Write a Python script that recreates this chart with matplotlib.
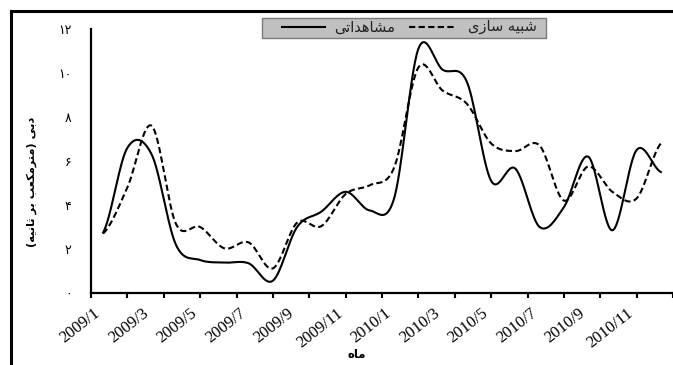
import numpy as np
import matplotlib
matplotlib.use('Agg')
import matplotlib.pyplot as plt
from matplotlib.lines import Line2D
from matplotlib.patches import Rectangle

# monthly discharge, 2009/1 .. 2010/12
months = ['%d/%d' % (y, m) for y in (2009, 2010) for m in range(1, 13)]
observed = [2.75, 6.6, 6.3, 2.2, 1.5, 1.38, 1.35, 0.56, 3.0, 3.7, 4.6, 3.75,
            4.3, 11.1, 10.15, 9.6, 5.1, 5.65, 3.0, 3.9, 6.2, 2.85, 6.5, 5.5]
simulated = [2.7, 4.8, 7.6, 3.15, 3.0, 2.03, 2.3, 1.12, 3.2, 3.04, 4.5, 4.9,
             5.7, 10.25, 9.2, 8.6, 6.8, 6.45, 6.7, 4.2, 5.75, 4.6, 4.3, 6.8]
xlabels = months[::2]
yticks = [0, 2, 4, 6, 8, 10, 12]
ylabels = ['۰', '۲', '۴', '۶', '۸', '۱۰', '۱۲']

# arabic presentation forms: iso, fin, ini, med
FORMS = {
    'ا': ('\uFE8D', '\uFE8E', None, None),
    'ب': ('\uFE8F', '\uFE90', '\uFE91', '\uFE92'),
    'ت': ('\uFE95', '\uFE96', '\uFE97', '\uFE98'),
    'ث': ('\uFE99', '\uFE9A', '\uFE9B', '\uFE9C'),
    'د': ('\uFEA9', '\uFEAA', None, None),
    'ر': ('\uFEAD', '\uFEAE', None, None),
    'ز': ('\uFEAF', '\uFEB0', None, None),
    'س': ('\uFEB1', '\uFEB2', '\uFEB3', '\uFEB4'),
    'ش': ('\uFEB5', '\uFEB6', '\uFEB7', '\uFEB8'),
    'ع': ('\uFEC9', '\uFECA', '\uFECB', '\uFECC'),
    'م': ('\uFEE1', '\uFEE2', '\uFEE3', '\uFEE4'),
    'ن': ('\uFEE5', '\uFEE6', '\uFEE7', '\uFEE8'),
    'ه': ('\uFEE9', '\uFEEA', '\uFEEB', '\uFEEC'),
    'ی': ('\uFBFC', '\uFBFD', '\uFBFE', '\uFBFF'),
    'ک': ('\uFB8E', '\uFB8F', '\uFB90', '\uFB91'),
}


def shape(s):
    out = []
    for i, c in enumerate(s):
        if c not in FORMS:
            out.append(c)
            continue
        prev = s[i - 1] if i > 0 else ''
        nxt = s[i + 1] if i < len(s) - 1 else ''
        jp = prev in FORMS and FORMS[prev][2] is not None
        jn = FORMS[c][2] is not None and nxt in FORMS
        f = FORMS[c]
        out.append(f[3] if jp and jn else f[1] if jp else f[2] if jn else f[0])
    vis = ''.join(reversed(out))
    return vis.translate(str.maketrans('()', ')('))


def smooth(vals, steps=30):
    p = np.r_[vals[0], vals, vals[-1]]
    xs, ys = [], []
    t = np.linspace(0, 1, steps, endpoint=False)
    for i in range(len(vals) - 1):
        p0, p1, p2, p3 = p[i], p[i + 1], p[i + 2], p[i + 3]
        ys.append(0.5 * (2 * p1 + (p2 - p0) * t + (2 * p0 - 5 * p1 + 4 * p2 - p3) * t ** 2
                         + (3 * p1 - p0 - 3 * p2 + p3) * t ** 3))
        xs.append(i + t)
    xs.append([len(vals) - 1])
    ys.append([vals[-1]])
    return np.concatenate(xs), np.concatenate(ys)


W, H = 673, 365
fig = plt.figure(figsize=(W / 100, H / 100), dpi=100)
ax = fig.add_axes([91 / W, 1 - 293 / H, (W - 91) / W, (293 - 29) / H])

x = np.arange(len(months))
sx, sy = smooth(observed)
ax.plot(sx, sy, color='black', lw=1.5)
sx, sy = smooth(simulated)
ax.plot(sx, sy, color='black', lw=1.5, dashes=(3, 1.6))

ax.set_xlim(-0.5, 23.5)
ax.set_ylim(0, 12)
for s in ['top', 'right']:
    ax.spines[s].set_visible(False)
for s in ['left', 'bottom']:
    ax.spines[s].set_linewidth(1.6)

ax.set_yticks(yticks)
ax.set_yticklabels(ylabels, fontsize=9, family='DejaVu Sans')
ax.tick_params(axis='y', length=0, pad=14)

ax.xaxis.remove_overlapping_locs = False
ax.set_xticks(np.arange(-0.5, 23.6, 1.5))
ax.set_xticklabels([])
ax.tick_params(axis='x', which='major', length=3.5, width=1.5, direction='out')
ax.set_xticks(x[::2], labels=xlabels, minor=True)
ax.tick_params(axis='x', which='minor', length=0, pad=9, labelsize=12)
for lab in ax.get_xticklabels(minor=True):
    lab.set_rotation(38)
    lab.set_ha('right')
    lab.set_family('Liberation Serif')

fig.text(32 / W, 1 - 182 / H, shape('دبی (مترمکعب بر ثانیه)'), rotation=90,
         ha='center', va='center', fontsize=8.2, fontweight='bold', family='DejaVu Sans')
fig.text(357 / W, 1 - 355 / H, shape('ماه'), ha='center', va='center',
         fontsize=8.5, fontweight='bold', family='DejaVu Sans')

# legend box
fig.add_artist(Rectangle((262 / W, 1 - 38 / H), (546 - 262) / W, 20 / H,
                         transform=fig.transFigure, facecolor='#c0c0c0',
                         edgecolor='#7a7a7a', lw=1))
ly = 1 - 27 / H
fig.add_artist(Line2D([282 / W, 325 / W], [ly, ly], transform=fig.transFigure,
                      color='black', lw=1.5))
fig.text(395 / W, ly, shape('مشاهداتی'), ha='right', va='center',
         fontsize=10.5, color='#222222', family='DejaVu Sans')
fig.add_artist(Line2D([409 / W, 455 / W], [ly, ly], transform=fig.transFigure,
                      color='black', lw=1.5, dashes=(3, 1.6)))
fig.text(537 / W, ly, shape('شبیه سازی'), ha='right', va='center',
         fontsize=10.5, color='#222222', family='DejaVu Sans')

# outer frame (cropped on right and bottom)
fy = 1 - 11 / H
fig.add_artist(Line2D([11.5 / W, 11.5 / W], [0, fy], transform=fig.transFigure,
                      color='black', lw=2.2))
fig.add_artist(Line2D([11.5 / W, 1], [fy, fy], transform=fig.transFigure,
                      color='black', lw=2.2))

fig.savefig('out.png', dpi=100)
